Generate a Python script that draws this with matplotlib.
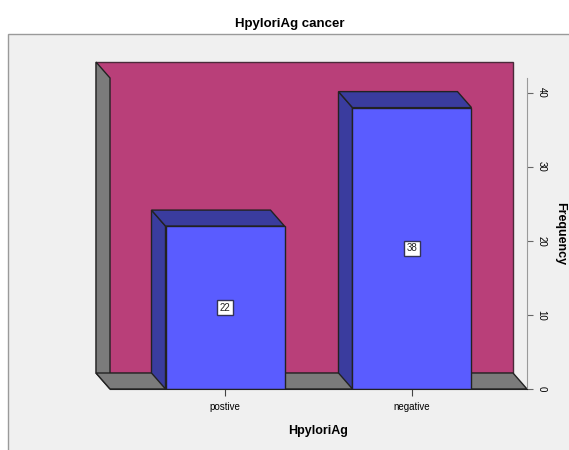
import matplotlib.pyplot as plt
from matplotlib.patches import Polygon, Rectangle

plt.rcParams["font.family"] = ["Liberation Sans", "DejaVu Sans"]

# -----------------------
# Data
# -----------------------
categories = ["postive", "negative"]
counts = [22, 38]
y_max = 42
y_ticks = [0, 10, 20, 30, 40]

# -----------------------
# Style
# -----------------------
BG = "#f0f0f0"
WALL = "#b93f79"
SIDE = "#7b7b7b"
BAR = "#5a5cff"
BAR_DARK = "#3a3c9e"
EDGE = "#222222"

W, H = 569, 450
fig = plt.figure(figsize=(W / 100, H / 100), dpi=100)
fig.patch.set_facecolor("white")

# grey panel behind the chart
fig.patches.append(Rectangle((8 / W, -0.1), 1.2, 1 - 34 / H + 0.1,
                             transform=fig.transFigure, facecolor=BG,
                             edgecolor="#9a9a9a", lw=1.0, zorder=-5))

# axes = front plane of the 3D box
ax = fig.add_axes([110 / W, 1 - 389 / H, 417 / W, 311 / H])
ax.set_zorder(1)
ax.set_facecolor("none")
x0, x1 = -0.615, 1.615
ax.set_xlim(x0, x1)
ax.set_ylim(0, y_max)

# depth offset (data units)
dx = -14 / 187
dy = 16 / (311 / y_max)

# back wall, left wall, floor
ax.add_patch(Polygon([(x0 + dx, dy), (x1 + dx, dy), (x1 + dx, y_max + dy), (x0 + dx, y_max + dy)],
                     closed=True, facecolor=WALL, edgecolor="#4a2a3a", lw=1, clip_on=False, zorder=1))
ax.add_patch(Polygon([(x0 + dx, dy), (x0 + dx, y_max + dy), (x0, y_max), (x0, 0)],
                     closed=True, facecolor=SIDE, edgecolor=EDGE, lw=1, clip_on=False, zorder=2))
ax.add_patch(Polygon([(x0, 0), (x0 + dx, dy), (x1 + dx, dy), (x1, 0)],
                     closed=True, facecolor=SIDE, edgecolor=EDGE, lw=1, clip_on=False, zorder=2))

# bars
width = 119 / 187
xs = list(range(len(categories)))
for x, v in zip(xs, counts):
    xl, xr = x - width / 2, x + width / 2
    ax.add_patch(Polygon([(xl, 0), (xl + dx, dy), (xl + dx, v + dy), (xl, v)],
                         closed=True, facecolor=BAR_DARK, edgecolor=EDGE, lw=1, clip_on=False, zorder=3))
    ax.add_patch(Polygon([(xl, v), (xl + dx, v + dy), (xr + dx, v + dy), (xr, v)],
                         closed=True, facecolor=BAR_DARK, edgecolor=EDGE, lw=1, clip_on=False, zorder=3))
ax.bar(xs, counts, width=width, color=BAR, edgecolor=EDGE, lw=1, zorder=4)

for x, v in zip(xs, counts):
    ax.text(x, v / 2, str(v), ha="center", va="center", fontsize=7, color="#222222", zorder=5,
            bbox=dict(boxstyle="square,pad=0.25", facecolor="white", edgecolor="#333355", lw=1))

# axes styling
for s in ["top", "left"]:
    ax.spines[s].set_visible(False)
ax.spines["bottom"].set_color(EDGE)
ax.spines["bottom"].set_zorder(6)
ax.spines["right"].set_color("#9a9a9a")
ax.yaxis.tick_right()
ax.yaxis.set_label_position("right")
ax.set_yticks(y_ticks)
ax.set_yticklabels([str(t) for t in y_ticks], rotation=-90, va="center", fontsize=7)
ax.tick_params(axis="y", direction="out", length=4, color="#666666", pad=3)
ax.set_xticks(xs)
ax.set_xticklabels(categories, fontsize=7)
ax.tick_params(axis="x", direction="out", length=5, color="#444444", pad=4)
ax.set_ylabel("Frequency", rotation=-90, fontsize=9, fontweight="bold", labelpad=14)
ax.set_xlabel("HpyloriAg", fontsize=9, fontweight="bold", labelpad=10)

fig.text(0.51, 1 - 24 / H, "HpyloriAg cancer", ha="center", va="center",
         fontsize=9.5, fontweight="bold")

fig.savefig("out.png", dpi=100)
